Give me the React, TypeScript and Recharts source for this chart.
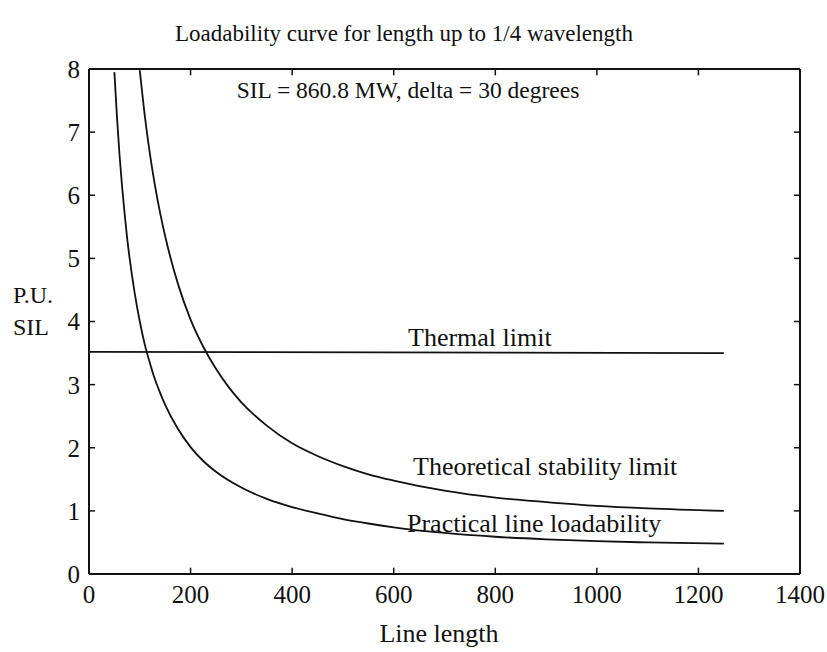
import React from 'react';
import { LineChart, Line, XAxis, YAxis, ReferenceLine, Customized } from 'recharts';

// axis ticks
const X_TICKS = [0, 200, 400, 600, 800, 1000, 1200, 1400];
const Y_TICKS = [0, 1, 2, 3, 4, 5, 6, 7, 8];
const INNER_X_TICKS = [200, 400, 600, 800, 1000, 1200];
const INNER_Y_TICKS = [1, 2, 3, 4, 5, 6, 7];

// line length (km) vs P.U. SIL
const thermalKm = [0, 1250];
const thermalPu = [3.52, 3.5];

const theoreticalKm = [100, 110, 120, 130, 140, 150, 175, 200, 225, 250, 275, 300, 350, 400, 450, 500, 550, 600, 700, 800, 900, 1000, 1100, 1250];
const theoreticalPu = [7.98, 7.25, 6.65, 6.15, 5.72, 5.35, 4.6, 4.03, 3.6, 3.25, 2.96, 2.72, 2.35, 2.07, 1.87, 1.71, 1.58, 1.48, 1.32, 1.21, 1.14, 1.08, 1.04, 1.0];

const practicalKm = [50, 55, 60, 65, 70, 75, 80, 90, 100, 110, 120, 130, 140, 150, 175, 200, 225, 250, 300, 350, 400, 450, 500, 550, 600, 700, 800, 900, 1000, 1100, 1250];
const practicalPu = [7.95, 7.25, 6.65, 6.15, 5.72, 5.33, 5.0, 4.45, 4.0, 3.63, 3.34, 3.08, 2.87, 2.68, 2.3, 2.01, 1.79, 1.62, 1.37, 1.19, 1.06, 0.96, 0.87, 0.8, 0.74, 0.65, 0.59, 0.55, 0.52, 0.5, 0.48];

const toRows = (km: number[], pu: number[]) => km.map((x, i) => ({ km: x, pu: pu[i] }));

const SERIF = '"Liberation Serif", "Times New Roman", serif';
const INK = '#111';

// inward tick lengths in data units (~6px)
const TICK_DX = 12;
const TICK_DY = 0.1;

const Annotations = () => (
    <g fill={INK}>
        <text x={404} y={41} fontSize={23} fontFamily={SERIF} textAnchor="middle">
            Loadability curve for length up to 1/4 wavelength
        </text>
        <text x={408} y={98} fontSize={23.5} fontFamily={SERIF} textAnchor="middle">
            SIL = 860.8 MW, delta = 30 degrees
        </text>
        <text x={408} y={346} fontSize={26} fontFamily={SERIF}>Thermal limit</text>
        <text x={413} y={475} fontSize={26} fontFamily={SERIF}>Theoretical stability limit</text>
        <text x={407} y={532} fontSize={26} fontFamily={SERIF}>Practical line loadability</text>
        <text x={13} y={303} fontSize={24} fontFamily={SERIF}>P.U.</text>
        <text x={13} y={335} fontSize={24} fontFamily={SERIF}>SIL</text>
        <text x={439} y={642} fontSize={26} fontFamily={SERIF} textAnchor="middle">Line length</text>
    </g>
);

export default function App() {
    const axisLine = { stroke: INK, strokeWidth: 2 };
    const tickText = { fill: INK, fontSize: 25, fontFamily: SERIF };
    const tickProps = { xAxisId: 'bottom', yAxisId: 'left', stroke: INK, strokeWidth: 1.5 };

    return (
        <div style={{ position: 'absolute', left: 0, top: 0, background: '#fff' }}>
            <LineChart width={827} height={652} margin={{ top: 0, right: 0, bottom: 0, left: 0 }}>
                <XAxis
                    xAxisId="bottom"
                    dataKey="km"
                    type="number"
                    domain={[0, 1400]}
                    ticks={X_TICKS}
                    allowDataOverflow
                    height={78}
                    axisLine={axisLine}
                    tickLine={false}
                    tickSize={0}
                    tickMargin={11}
                    tick={tickText}
                />
                <XAxis
                    xAxisId="top"
                    orientation="top"
                    type="number"
                    domain={[0, 1400]}
                    height={69}
                    axisLine={axisLine}
                    tickLine={false}
                    tick={false}
                />
                <YAxis
                    yAxisId="left"
                    type="number"
                    domain={[0, 8]}
                    ticks={Y_TICKS}
                    width={89}
                    axisLine={axisLine}
                    tickLine={false}
                    tickSize={0}
                    tickMargin={9}
                    tick={tickText}
                />
                <YAxis
                    yAxisId="right"
                    orientation="right"
                    type="number"
                    domain={[0, 8]}
                    width={27}
                    axisLine={axisLine}
                    tickLine={false}
                    tick={false}
                />

                {/* inward tick marks on all four sides */}
                {INNER_X_TICKS.map((x) => (
                    <ReferenceLine key={`b${x}`} {...tickProps} segment={[{ x, y: 0 }, { x, y: TICK_DY }]} />
                ))}
                {INNER_X_TICKS.map((x) => (
                    <ReferenceLine key={`t${x}`} {...tickProps} segment={[{ x, y: 8 }, { x, y: 8 - TICK_DY }]} />
                ))}
                {INNER_Y_TICKS.map((y) => (
                    <ReferenceLine key={`l${y}`} {...tickProps} segment={[{ x: 0, y }, { x: TICK_DX, y }]} />
                ))}
                {INNER_Y_TICKS.map((y) => (
                    <ReferenceLine key={`r${y}`} {...tickProps} segment={[{ x: 1400, y }, { x: 1400 - TICK_DX, y }]} />
                ))}

                <Line
                    data={toRows(thermalKm, thermalPu)}
                    xAxisId="bottom"
                    yAxisId="left"
                    dataKey="pu"
                    type="linear"
                    stroke={INK}
                    strokeWidth={1.8}
                    dot={false}
                    isAnimationActive={false}
                />
                <Line
                    data={toRows(theoreticalKm, theoreticalPu)}
                    xAxisId="bottom"
                    yAxisId="left"
                    dataKey="pu"
                    type="monotone"
                    stroke={INK}
                    strokeWidth={1.8}
                    dot={false}
                    isAnimationActive={false}
                />
                <Line
                    data={toRows(practicalKm, practicalPu)}
                    xAxisId="bottom"
                    yAxisId="left"
                    dataKey="pu"
                    type="monotone"
                    stroke={INK}
                    strokeWidth={1.8}
                    dot={false}
                    isAnimationActive={false}
                />
                <Customized component={Annotations} />
            </LineChart>
        </div>
    );
}
